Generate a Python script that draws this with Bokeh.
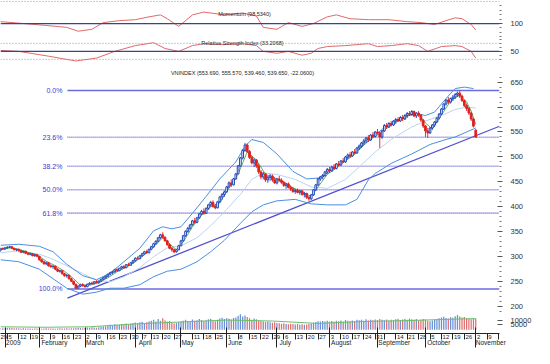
import datetime as dt
from bokeh.plotting import figure
from bokeh.models import Range1d, LinearAxis, FixedTicker, CustomJSTickFormatter, Span
from bokeh.core.properties import value
from bokeh.embed import file_html
from bokeh.resources import INLINE

FONT = "Liberation Sans"

# ---------------- trading calendar (HOSE 2009) ----------------
HOLIDAYS = ["2009-01-01", "2009-01-23", "2009-01-26", "2009-01-27", "2009-01-28",
            "2009-01-29", "2009-01-30", "2009-04-06", "2009-04-30", "2009-05-01",
            "2009-09-02"]
hol = {dt.date.fromisoformat(s) for s in HOLIDAYS}
days = []
d = dt.date(2008, 12, 29)
while d <= dt.date(2009, 11, 20):
    if d.weekday() < 5 and d not in hol:
        days.append(d)
    d += dt.timedelta(days=1)

# ---------------- daily OHLC (Dec 29 2008 .. Nov 2 2009) ----------------
open_ = [310, 313, 317,
         315.6, 318, 319, 320, 317, 314, 315, 312, 309, 311, 307, 305, 306, 302, 304,
         301, 294, 290, 286, 288, 282, 280, 281, 275, 271, 272, 266, 262, 263, 256, 251, 245, 237, 241, 244,
         242, 240, 245, 247, 246, 250, 248, 251, 255, 258, 261, 265, 268, 270, 274, 272, 277, 280, 278, 284, 283, 288,
         292, 297, 296, 302, 306, 310, 308, 315, 320, 326, 331, 338, 344, 339, 332, 324, 317, 314, 310, 314,
         322, 332, 342, 351, 357, 364, 372, 369, 378, 386, 391, 387, 397, 404, 409, 401, 398, 410, 420, 425,
         430, 440, 448, 444, 456, 466, 482, 498, 513, 524, 511, 499, 488, 494, 482, 470, 460, 466, 454, 459, 462, 454,
         448, 456, 453, 449, 443, 446, 439, 436, 431, 433, 429, 432, 425, 427, 419, 416, 424, 434, 444, 456, 460, 463, 470,
         475, 472, 480, 477, 486, 484, 492, 490, 500, 504, 502, 510, 508, 518, 522, 528, 532, 538, 534, 544, 541,
         550, 548, 540, 552, 563, 560, 567, 564, 572, 575, 572, 579, 576, 583, 587, 585, 591, 582, 588, 584, 574,
         562, 552, 548, 558, 564, 570, 578, 586, 596, 606, 614, 610, 617, 620, 625, 628, 622, 613, 603, 597, 588, 576,
         553.69]
high = [314, 318, 318,
        319, 321, 322, 321, 318, 316, 316, 314, 312, 312, 309, 308, 307, 305, 305,
        302, 296, 292, 290, 289, 285, 283, 282, 277, 274, 273, 268, 265, 264, 258, 252, 246, 243, 246, 247,
        244, 246, 249, 250, 251, 253, 252, 256, 259, 262, 266, 270, 272, 276, 277, 278, 282, 283, 285, 288, 289, 294,
        299, 301, 303, 308, 312, 314, 316, 322, 328, 333, 340, 346, 349, 341, 334, 327, 320, 316, 316, 324,
        334, 344, 353, 360, 366, 374, 378, 380, 388, 394, 397, 399, 406, 412, 413, 406, 412, 422, 428, 433,
        442, 451, 455, 458, 468, 484, 500, 516, 528, 527, 514, 503, 497, 496, 486, 474, 470, 468, 462, 466, 465, 460,
        458, 462, 457, 452, 448, 449, 443, 440, 436, 437, 434, 434, 430, 428, 422, 426, 436, 446, 458, 462, 466, 472, 478,
        480, 482, 486, 488, 492, 494, 498, 502, 507, 510, 512, 516, 520, 525, 530, 536, 540, 544, 546, 550, 552,
        556, 550, 554, 566, 568, 570, 572, 574, 578, 580, 582, 584, 586, 590, 592, 594, 593, 590, 592, 586, 576,
        564, 558, 560, 566, 572, 580, 588, 598, 608, 616, 620, 619, 624, 628, 631, 633.2, 625, 615, 607, 600, 590, 578,
        555.57]
low = [308, 312, 314,
       314, 316, 317, 315, 313, 311, 310, 308, 307, 306, 303, 303, 301, 300, 299,
       292, 288, 284, 283, 280, 278, 276, 273, 269, 268, 264, 260, 258, 254, 249, 243, 235.5, 236, 239, 240,
       238, 239, 243, 244, 245, 247, 246, 250, 253, 256, 259, 263, 265, 268, 270, 271, 275, 276, 277, 281, 282, 286,
       290, 294, 295, 300, 304, 306, 307, 313, 318, 324, 329, 335, 336, 330, 322, 315, 310, 307, 308, 313,
       321, 330, 340, 348, 354, 362, 366, 367, 376, 383, 384, 386, 394, 400, 398, 395, 397, 408, 414, 420,
       428, 437, 440, 443, 454, 465, 480, 495, 510, 508, 496, 485, 480, 478, 466, 455, 455, 450, 448, 452, 450, 446,
       445, 450, 446, 440, 436, 437, 432, 428, 426, 427, 424, 422, 419, 416, 412, 414, 422, 432, 442, 452, 455, 460, 466,
       468, 470, 474, 475, 481, 482, 488, 488, 496, 498, 500, 505, 506, 514, 518, 524, 528, 530, 532, 538, 539,
       545, 518, 536, 550, 556, 558, 561, 562, 566, 570, 570, 572, 574, 578, 582, 583, 580, 578, 580, 570, 558,
       540, 538, 546, 554, 560, 568, 575, 584, 594, 603, 606, 607, 612, 616, 620, 618, 610, 600, 592, 584, 572, 559,
       539.46]
close = [313, 317, 315.6,
         318, 319, 320, 317, 314, 315, 312, 309, 311, 307, 305, 306, 302, 304, 301,
         294, 290, 286, 288, 282, 280, 281, 275, 271, 272, 266, 262, 263, 256, 251, 245, 237, 241, 244, 242,
         240, 245, 247, 246, 250, 248, 251, 255, 258, 261, 265, 268, 270, 274, 272, 277, 280, 278, 284, 283, 288, 292,
         297, 296, 302, 306, 310, 308, 315, 320, 326, 331, 338, 344, 339, 332, 324, 317, 314, 310, 314, 322,
         332, 342, 351, 357, 364, 372, 369, 378, 386, 391, 387, 397, 404, 409, 401, 398, 410, 420, 425, 430,
         440, 448, 444, 456, 466, 482, 498, 513, 524, 511, 499, 488, 494, 482, 470, 460, 466, 454, 459, 462, 454, 448,
         456, 453, 449, 443, 446, 439, 436, 431, 433, 429, 432, 425, 427, 419, 416, 424, 434, 444, 456, 460, 463, 470, 475,
         472, 480, 477, 486, 484, 492, 490, 500, 504, 502, 510, 508, 518, 522, 528, 532, 538, 534, 544, 541, 550,
         548, 540, 552, 563, 560, 567, 564, 572, 575, 572, 579, 576, 583, 587, 585, 591, 582, 588, 584, 574, 562,
         552, 548, 558, 564, 570, 578, 586, 596, 606, 614, 610, 617, 620, 625, 628, 622, 613, 603, 597, 588, 576, 561.71,
         539.65]
volume = [1500, 1800, 1600,
          1400, 1700, 2000, 1800, 1500, 1600, 1400, 1300, 1500, 1200, 1100, 1300, 1000, 1200, 1100,
          1200, 1000, 1100, 1400, 1200, 1100, 1300, 1000, 1200, 1400, 1100, 1300, 1500, 1200, 1600, 1400, 1800, 2000, 1700, 1500,
          1800, 2200, 2000, 2500, 2300, 2100, 2600, 3000, 3400, 3200, 4200, 5000, 4400, 5600, 4800, 5200, 6000, 5400, 6400, 5800, 6200, 7000,
          7400, 6600, 7800, 8200, 7000, 7600, 8800, 9200, 10400, 8600, 11000, 9400, 12000, 9800, 8400, 9000, 7200, 6400, 7000, 7800,
          8600, 9400, 10200, 9000, 8800, 10600, 9200, 9800, 11200, 10000, 9000, 9600, 10800, 11400, 9400, 8800, 10200, 11600, 12400, 11000,
          12000, 11400, 10600, 12200, 12800, 14400, 16000, 13600, 14800, 13200, 11800, 10400, 11600, 10800, 9600, 9000, 8600, 8000, 8400, 7800, 7200, 7600,
          7000, 6600, 6200, 6800, 6000, 5600, 6200, 5800, 5400, 6000, 5200, 5600, 5000, 5400, 5800, 6400, 7200, 8000, 8800, 8400, 9000, 8600, 9200,
          8400, 9000, 8200, 9400, 8800, 9600, 8400, 10000, 9200, 8800, 9600, 9000, 10400, 9800, 10200, 9400, 10800, 9600, 10200, 9800, 10600,
          10000, 11200, 10400, 9800, 10600, 9400, 10200, 9800, 10800, 11400, 10000, 10600, 11000, 10400, 11600, 10800, 10200, 11000, 9600, 10400, 11200,
          10800, 9400, 8800, 9600, 10200, 11000, 11800, 12600, 13400, 12200, 11600, 13000, 12400, 14000, 15200, 13800, 12600, 13200, 12000, 11400, 10800, 12200,
          11600]

# ---------------- indicator lines ----------------
up_idx = [1, 9, 18, 24, 30, 37, 43, 49, 55, 62, 68, 72, 76, 80, 85, 91, 97, 104, 108, 111, 116, 122, 129, 135, 141, 145, 152, 158, 164, 170, 177, 183, 187, 191, 196, 200, 204, 208]
up_val = [323, 325, 321, 310, 285, 262, 254, 267, 290, 317, 352, 360, 356, 360, 387, 421, 456, 490, 521, 535, 529, 506, 471, 456, 458, 471, 494, 515, 540, 563, 579, 587, 583, 590, 617, 637, 640, 637]
lo_idx = [1, 9, 18, 24, 30, 37, 43, 49, 55, 62, 68, 74, 80, 87, 93, 99, 106, 111, 116, 122, 130, 137, 144, 152, 157, 162, 165, 172, 181, 189, 196, 200, 205, 209]
lo_val = [294, 290, 275, 256, 237, 225, 229, 237, 237, 244, 260, 271, 275, 290, 310, 333, 367, 390, 404, 412, 415, 406, 404, 404, 415, 454, 467, 487, 506, 525, 535, 540, 550, 558]
ma_idx = [1, 9, 18, 24, 30, 37, 43, 49, 55, 62, 68, 74, 80, 87, 93, 99, 106, 111, 116, 122, 130, 137, 144, 152, 158, 165, 172, 181, 187, 195, 200, 205, 209]
ma_val = [308, 312, 305, 295, 282, 266, 253, 250, 260, 278, 300, 318, 322, 338, 362, 390, 425, 455, 468, 465, 455, 440, 437, 455, 480, 510, 535, 560, 572, 585, 595, 600, 598]
gr_idx = [1, 5, 9, 13, 17, 21, 25, 29, 33, 36, 40, 44, 48, 52, 56, 60, 64, 68, 72, 75, 78, 81, 85, 89, 93, 97, 101, 105, 109, 113, 117, 121, 125, 129, 133, 137, 140, 144, 148, 152, 156, 160, 164, 168, 172, 176, 180, 184, 187, 190, 194, 198, 202, 205, 207, 209]
gr_val = [314, 318, 315, 309, 304, 291, 282, 271, 256, 243, 243, 248, 258, 270, 279, 290, 304, 320, 338, 326, 314, 330, 360, 383, 400, 408, 438, 466, 510, 494, 465, 457, 450, 438, 430, 421, 440, 465, 478, 492, 505, 525, 538, 550, 564, 575, 584, 586, 568, 556, 584, 612, 624, 610, 592, 565]
vma_idx = [1, 20, 40, 60, 80, 100, 120, 140, 160, 180, 200, 209]
vma_val = [3000, 2500, 3000, 6000, 8000, 10000, 9000, 6500, 8500, 9500, 11000, 11500]

mom_idx = [1, 11, 21, 30, 35, 41, 46, 53, 60, 66, 71, 74, 79, 85, 90, 99, 107, 113, 116, 122, 127, 133, 138, 144, 148, 154, 162, 171, 179, 185, 191, 196, 200, 203, 207, 209]
mom_val = [100.43, 100.0, 99.57, 99.13, 98.26, 98.7, 100.22, 100.65, 100.87, 101.52, 101.96, 101.09, 99.35, 101.96, 102.6, 101.96, 102.4, 101.7, 99.13, 98.7, 100.22, 99.35, 100.0, 101.52, 101.96, 101.09, 100.87, 100.87, 100.43, 100.22, 99.78, 100.65, 101.3, 101.09, 99.78, 98.534]
rsi_idx = [1, 9, 22, 34, 43, 51, 60, 68, 73, 79, 85, 90, 98, 107, 113, 116, 122, 127, 133, 137, 140, 144, 152, 162, 166, 172, 179, 184, 188, 194, 200, 203, 207, 209]
rsi_val = [52.4, 50.0, 38.0, 26.0, 33.2, 50.0, 64.4, 71.6, 57.2, 50.0, 64.4, 69.2, 66.8, 69.2, 64.4, 50.0, 45.2, 50.0, 40.4, 45.2, 57.2, 62.0, 64.4, 69.2, 62.0, 64.4, 69.2, 64.4, 50.0, 62.0, 64.4, 62.0, 50.0, 33.2]

# Fibonacci retracement (low / high of the move) and trend line anchors
FIB_LOW, FIB_HIGH = 235.5, 633.2
FIB_RATIOS = [0.0, 0.236, 0.382, 0.5, 0.618, 1.0]
FIB_LABELS = ["0.0%", "23.6%", "38.2%", "50.0%", "61.8%", "100.0%"]
FIB_START = 30.3
TREND_X = [30.3, 219.4]
TREND_Y = [217.0, 561.5]

TITLE = "VNINDEX (553.690, 555.570, 539.460, 539.650, -22.0600)"
MOM_LABEL = "Momentum (98.5340)"
RSI_LABEL = "Relative Strength Index (33.2068)"
MONTHS = ["2009", "February", "March", "April", "May", "June", "July", "August",
          "September", "October", "November"]
PRICE_TICKS = [200, 250, 300, 350, 400, 450, 500, 550, 600, 650]

# ---------------- figure ----------------
X0, X1 = 1.0, 219.4
W, H = 534, 348
RB = 28
p = figure(width=W, height=H, output_backend="svg", toolbar_location=None,
           x_range=Range1d(X0, X1), y_range=Range1d(146.2, 813.5),
           y_axis_location="right", min_border_left=0, min_border_top=0,
           min_border_bottom=0, min_border_right=RB)
p.extra_y_ranges = {
    "mom": Range1d(29.78, 105.22),
    "rsi": Range1d(-655.0, 177.1),
    "vol": Range1d(-4000, 343000),
}
p.grid.visible = False
p.outline_line_color = None
p.background_fill_color = "white"
p.border_fill_color = "white"

n = len(close)
idx = list(range(n))
prev = [close[0]] + close[:-1]
BLUE, RED = "#1f45b8", "#e02020"
col = [BLUE if c >= pc else RED for c, pc in zip(close, prev)]
fill = ["white" if c >= o else cc for o, c, cc in zip(open_, close, col)]
top = [max(o, c) for o, c in zip(open_, close)]
bot = [min(o, c) for o, c in zip(open_, close)]

# top panels
for lvl, rng in [(105, "mom"), (70, "rsi"), (30, "rsi")]:
    p.add_layout(Span(location=lvl, dimension="width", y_range_name=rng,
                      line_color="#5aa8e0", line_dash="1 2", line_width=1))
p.add_layout(Span(location=100, dimension="width", y_range_name="mom",
                  line_color="#334499", line_width=1.2))
p.add_layout(Span(location=50, dimension="width", y_range_name="rsi",
                  line_color="#334499", line_width=1.2))
p.line(mom_idx, mom_val, y_range_name="mom", line_color="#e06a6a", line_width=1)
p.line(rsi_idx, rsi_val, y_range_name="rsi", line_color="#e06a6a", line_width=1)

# fibonacci levels
rng_f = FIB_HIGH - FIB_LOW
for r, lab in zip(FIB_RATIOS, FIB_LABELS):
    lv = FIB_HIGH - r * rng_f
    solid = r in (0.0, 1.0)
    p.line([FIB_START, X1], [lv, lv], line_color="#6b6be0",
           line_width=1.4 if solid else 1.6, line_dash="solid" if solid else "1 1")
    p.text([FIB_START - 2.2], [lv], text=[lab], text_font=value(FONT),
           text_font_size="7px", text_align="right", text_baseline="middle",
           text_color="#3a3ad0")

# trend line
p.line(TREND_X, TREND_Y, line_color="#5050d0", line_width=1.3)

# bands and averages
p.line(ma_idx, ma_val, line_color="#b9d4f2", line_width=1)
p.line(up_idx, up_val, line_color="#4a8fe0", line_width=1)
p.line(lo_idx, lo_val, line_color="#4a8fe0", line_width=1)
p.line(gr_idx, gr_val, line_color="#5fae5f", line_width=1)

# candles
p.segment(idx, high, idx, low, line_color=col, line_width=0.9)
p.vbar(x=idx, width=0.75, top=top, bottom=bot, fill_color=fill, line_color=col, line_width=1)

# volume
vcol = ["#6b8fd6" if c == BLUE else "#e07070" for c in col]
p.vbar(x=idx, width=0.55, top=volume, bottom=0, y_range_name="vol",
       fill_color=vcol, line_color=None)
p.line(vma_idx, vma_val, y_range_name="vol", line_color="#6cbf6c", line_width=1)

# texts
p.text([106.9], [669.2], text=[TITLE], text_font=value(FONT), text_font_size="5.5px",
       text_align="center", text_baseline="middle", text_color="#222222")
p.text([107.8], [786.5], text=[MOM_LABEL], text_font=value(FONT), text_font_size="5.5px",
       text_align="center", text_baseline="middle", text_color="#222222")
p.text([106.9], [728.8], text=[RSI_LABEL], text_font=value(FONT), text_font_size="5.5px",
       text_align="center", text_baseline="middle", text_color="#222222")

# ---------------- right axis ----------------
main_lo, main_hi = 146.2, 813.5
def to_main(v, r):
    rr = p.extra_y_ranges[r]
    return main_lo + (v - rr.start) / (rr.end - rr.start) * (main_hi - main_lo)

rt_vals = list(PRICE_TICKS) + [to_main(100, "mom"), to_main(50, "rsi"),
                               to_main(5000, "vol"), to_main(10000, "vol")]
rt_labs = [str(t) for t in PRICE_TICKS] + ["100", "50", "5000", "10000"]
minor_r = [v for v in range(190, 661, 10) if v % 50]
minor_r += [to_main(v, "mom") for v in (101, 102, 103, 104, 99, 98, 97)]
minor_r += [to_main(v, "rsi") for v in (60, 70, 80, 40, 30)]
ya = p.yaxis[0]
ya.ticker = FixedTicker(ticks=rt_vals, minor_ticks=minor_r)
ya.formatter = CustomJSTickFormatter(
    args=dict(keys=[int(round(v * 100)) for v in rt_vals], labs=rt_labs),
    code="const i = keys.indexOf(Math.round(tick*100)); return i >= 0 ? labs[i] : '';")
ya.axis_line_color = None
ya.major_tick_in = 2
ya.major_tick_out = 3
ya.minor_tick_in = 0
ya.minor_tick_out = 2
ya.major_tick_line_color = "#555555"
ya.minor_tick_line_color = "#777777"
ya.major_label_text_font = FONT
ya.major_label_text_font_size = "7.5px"
ya.major_label_text_color = "#333333"
ya.major_label_standoff = 8

# ---------------- bottom axes ----------------
ppd = (W - RB) / (X1 - X0)
week_first = []
seen = set()
for i, dd in enumerate(days):
    wk = dd.isocalendar()[:2]
    if wk not in seen:
        seen.add(wk)
        week_first.append(i)
month_first = []
for i, dd in enumerate(days):
    if i == 0 or dd.month != days[i - 1].month:
        if dd.year == 2009:
            month_first.append(i)
SKIP_DAYS = {dt.date(2009, 5, 4), dt.date(2009, 9, 7)}
day_ticks, day_labs = [], []
for i in week_first:
    if days[i] in SKIP_DAYS:
        continue
    lab = str(days[i].day)
    off = (1.2 + 0.5 * len(lab) * 0.556 * 6) / ppd
    day_ticks.append(i + off)
    day_labs.append(lab)
xa = p.xaxis[0]
xa.ticker = FixedTicker(ticks=day_ticks, minor_ticks=week_first)
xa.formatter = CustomJSTickFormatter(
    args=dict(keys=[int(round(v * 100)) for v in day_ticks], labs=day_labs),
    code="const i = keys.indexOf(Math.round(tick*100)); return i >= 0 ? labs[i] : '';")
xa.axis_line_color = "#222222"
xa.major_tick_line_color = None
xa.major_tick_in = 0
xa.major_tick_out = 0
xa.minor_tick_in = 0
xa.minor_tick_out = 6
xa.minor_tick_line_color = "#222222"
xa.major_label_standoff = -5
xa.axis_label_standoff = 0
xa.major_label_text_font = FONT
xa.major_label_text_font_size = "6px"
xa.major_label_text_color = "#222222"

m_ticks = []
for i, lab in zip(month_first, MONTHS):
    m_ticks.append(i + (1.5 + 0.5 * len(lab) * 0.53 * 6.5) / ppd)
ma_ax = LinearAxis(ticker=FixedTicker(ticks=m_ticks, minor_ticks=month_first))
ma_ax.formatter = CustomJSTickFormatter(
    args=dict(keys=[int(round(v * 100)) for v in m_ticks], labs=MONTHS),
    code="const i = keys.indexOf(Math.round(tick*100)); return i >= 0 ? labs[i] : '';")
ma_ax.axis_line_color = None
ma_ax.major_tick_line_color = None
ma_ax.major_tick_in = 0
ma_ax.major_tick_out = 0
ma_ax.minor_tick_in = 14
ma_ax.minor_tick_out = 6
ma_ax.minor_tick_line_color = "#222222"
ma_ax.major_label_standoff = -9
ma_ax.axis_label_standoff = 0
ma_ax.major_label_text_font = FONT
ma_ax.major_label_text_font_size = "6.5px"
ma_ax.major_label_text_color = "#222222"
p.add_layout(ma_ax, "below")

open("out.html", "w").write(file_html(p, INLINE))
